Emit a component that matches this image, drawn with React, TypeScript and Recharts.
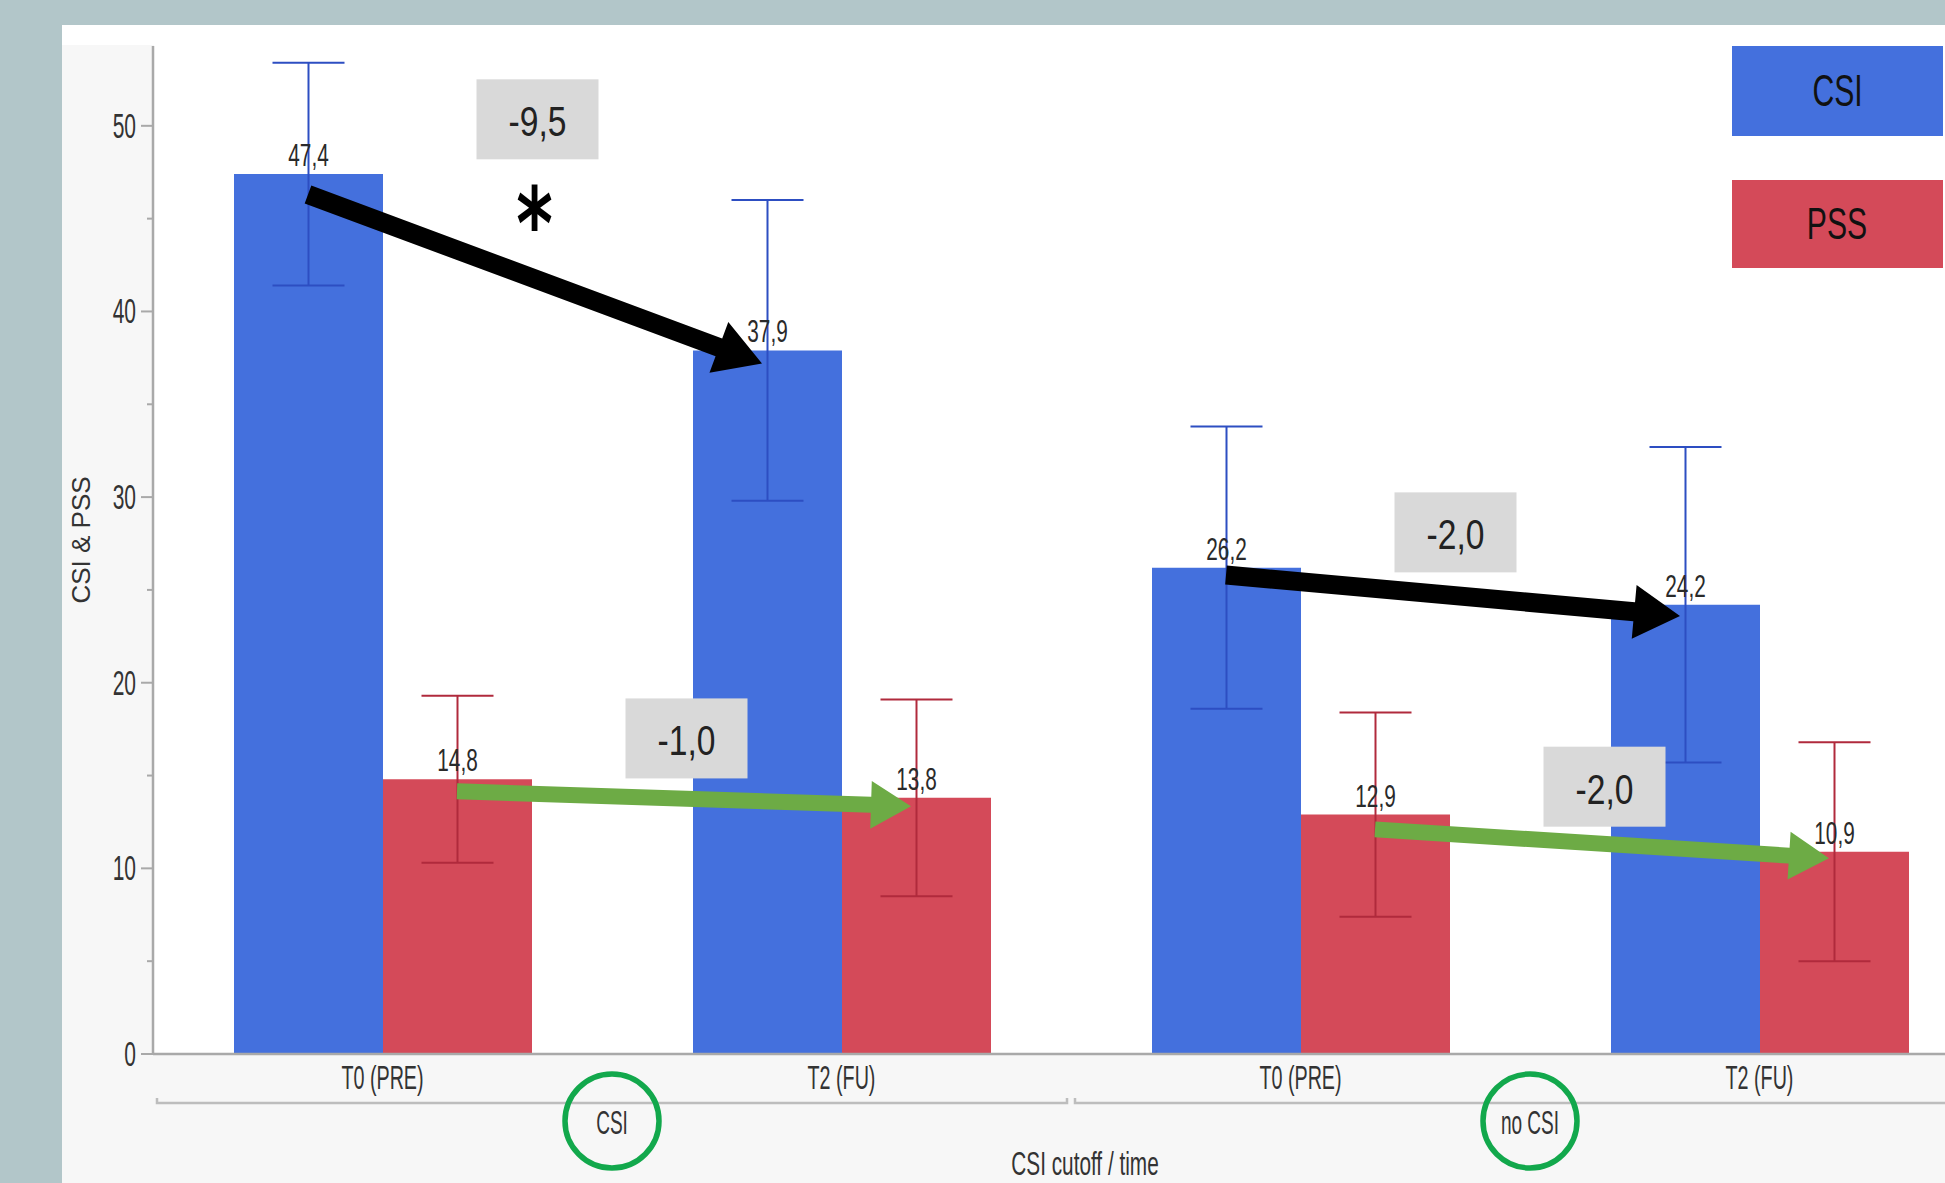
import React from 'react';
import { BarChart, Bar, XAxis, YAxis, ErrorBar, LabelList, ReferenceLine, ReferenceDot } from 'recharts';

// ---- data ----
const categories = ['T0 (PRE)', 'T2 (FU)', 'T0 (PRE)', 'T2 (FU)'];
const groups = ['CSI', 'CSI', 'no CSI', 'no CSI'];
const csiValues = [47.4, 37.9, 26.2, 24.2];
const csiErrors = [6.0, 8.1, 7.6, 8.5];
const pssValues = [14.8, 13.8, 12.9, 10.9];
const pssErrors = [4.5, 5.3, 5.5, 5.9];
const seriesNames = ['CSI', 'PSS'];
const yTicks = [0, 5, 10, 15, 20, 25, 30, 35, 40, 45, 50];
// change annotations: [series, fromIdx, toIdx, significant]
const changes: [number, number, number, boolean][] = [
  [0, 0, 1, true],
  [1, 0, 1, false],
  [0, 2, 3, false],
  [1, 2, 3, false],
];
// annotation placement (value units)
const changeBoxY = [50.35, 17.0, 28.1, 14.4];
const arrowY: [number, number][] = [
  [46.3, 37.2],
  [14.15, 13.35],
  [25.8, 23.6],
  [12.1, 10.55],
];

// ---- styles / layout ----
const W = 2000;
const H = 1183;
const PLOT_LEFT = 153;
const PLOT_RIGHT = 1989;
const BAND = (PLOT_RIGHT - PLOT_LEFT) / categories.length;
const BAR_SIZE = 149;
const BLUE = '#4470DD';
const RED = '#D44A59';
const BLUE_ERR = '#2D4EC2';
const RED_ERR = '#B02A3C';
const GREEN_ARROW = '#6DAB45';
const CIRCLE = '#12A84C';
const FONT = "'Liberation Sans', Arial, sans-serif";
const seriesColors = [BLUE, RED];
const seriesPixelOffset = [-BAR_SIZE / 2, BAR_SIZE / 2];

const keys = categories.map((c, i) => `${groups[i]}|${c}`);
const data = categories.map((c, i) => ({
  key: keys[i],
  time: c,
  group: groups[i],
  csi: csiValues[i],
  csiErr: csiErrors[i],
  pss: pssValues[i],
  pssErr: pssErrors[i],
}));
const seriesValues = [csiValues, pssValues];

const fmt = (v: number) => v.toFixed(1).replace('.', ',');

function NText({ x, y, size, sx, anchor = 'middle', fill = '#333', children, weight = 'normal', family = FONT }: any) {
  return (
    <text
      transform={`translate(${x},${y}) scale(${sx},1)`}
      x={0}
      y={0}
      textAnchor={anchor}
      fontSize={size}
      fontFamily={family}
      fontWeight={weight}
      fill={fill}
    >
      {children}
    </text>
  );
}

const YTick = (props: any) => {
  const { x, y, payload } = props;
  const major = payload.value % 10 === 0;
  return (
    <g>
      <line x1={x - (major ? 12 : 6)} x2={x} y1={y} y2={y} stroke="#A9A9A9" strokeWidth={2} />
      {major && (
        <NText x={x - 17} y={y + 12} size={35} sx={0.6} anchor="end">
          {payload.value}
        </NText>
      )}
    </g>
  );
};

const XTick = (props: any) => {
  const { x, y, index } = props;
  const first = index % 2 === 0;
  const gx = x + BAND / 2;
  return (
    <g>
      <NText x={x} y={y + 35} size={34} sx={0.58}>
        {categories[index]}
      </NText>
      {first && (
        <g>
          <path
            d={`M${x - BAND / 2 + 4},${y + 44} L${x - BAND / 2 + 4},${y + 49} L${x + 1.5 * BAND - 4},${y + 49} L${x + 1.5 * BAND - 4},${y + 44}`}
            fill="none"
            stroke="#BDBDBD"
            strokeWidth={2.5}
          />
          <NText x={gx} y={y + 80} size={34} sx={0.56}>
            {groups[index]}
          </NText>
          <circle cx={gx} cy={y + 67} r={47} fill="none" stroke={CIRCLE} strokeWidth={5.5} />
        </g>
      )}
    </g>
  );
};

const XTitle = (props: any) => {
  const vb = props.viewBox;
  return (
    <NText x={vb.x + vb.width / 2 + 14} y={vb.y + 121} size={33} sx={0.63}>
      CSI cutoff / time
    </NText>
  );
};

const YTitle = (props: any) => {
  const vb = props.viewBox;
  const cx = 81;
  const cy = vb.y + vb.height / 2 - 10;
  return (
    <text
      transform={`translate(${cx},${cy}) rotate(-90)`}
      textAnchor="middle"
      dominantBaseline="central"
      fontSize={26}
      fontFamily={FONT}
      fill="#333"
    >
      CSI &amp; PSS
    </text>
  );
};

const makeValueLabel = () => (props: any) => {
  const { x, y, width, value } = props;
  return (
    <NText x={x + width / 2} y={y - 8} size={32} sx={0.65} fill="#2a2a2a">
      {fmt(value)}
    </NText>
  );
};

const makeArrowShape = (color: string, off: number, w: number, L: number, Hh: number) => (props: any) => {
  const x1 = props.x1 + off;
  const y1 = props.y1;
  const x2 = props.x2 + off - 5;
  const y2 = props.y2;
  const dx = x2 - x1;
  const dy = y2 - y1;
  const len = Math.sqrt(dx * dx + dy * dy) || 1;
  const ux = dx / len;
  const uy = dy / len;
  const nx = -uy;
  const ny = ux;
  const bx = x2 - ux * L;
  const by = y2 - uy * L;
  const pts = [
    [x1 + nx * w, y1 + ny * w],
    [bx + nx * w, by + ny * w],
    [bx + nx * Hh, by + ny * Hh],
    [x2, y2],
    [bx - nx * Hh, by - ny * Hh],
    [bx - nx * w, by - ny * w],
    [x1 - nx * w, y1 - ny * w],
  ];
  return <polygon points={pts.map((p) => p.join(',')).join(' ')} fill={color} />;
};

const makeBoxShape = (text: string, star: boolean, off: number) => (props: any) => {
  const cx = props.cx + BAND / 2 + off;
  const cy = props.cy;
  return (
    <g>
      <rect x={cx - 61} y={cy - 40} width={122} height={80} fill="#D9D9D9" />
      <NText x={cx} y={cy + 17} size={42} sx={0.8} fill="#222">
        {text}
      </NText>
      {star && (
        <NText x={cx - 3} y={cy + 140} size={100} sx={0.7} fill="#000" weight="bold" family="'DejaVu Sans', sans-serif">
          *
        </NText>
      )}
    </g>
  );
};

export default function App() {
  return (
    <div style={{ position: 'absolute', left: 0, top: 0, width: 1945, height: 1183, overflow: 'hidden', background: '#B2C6C9' }}>
      <div style={{ position: 'absolute', left: 62, top: 25, right: 0, bottom: 0, background: '#FFFFFF' }} />
      <div style={{ position: 'absolute', left: 62, top: 45, width: 92, bottom: 0, background: '#F7F7F7' }} />
      <div style={{ position: 'absolute', left: 62, top: 1054, right: 0, bottom: 0, background: '#F7F7F7' }} />
      <div style={{ position: 'absolute', left: 0, top: 0 }}>
        <BarChart width={W} height={H} data={data} margin={{ top: 46, right: W - PLOT_RIGHT, left: 0, bottom: 0 }} barGap={0}>
          <XAxis
            dataKey="key"
            interval={0}
            height={H - 1054}
            tickSize={0}
            tickMargin={0}
            tickLine={false}
            axisLine={{ stroke: '#A9A9A9', strokeWidth: 2.5 }}
            tick={<XTick />}
            label={{ content: <XTitle /> } as any}
          />
          <YAxis
            width={PLOT_LEFT}
            domain={[0, 54.3]}
            ticks={yTicks}
            interval={0}
            allowDataOverflow
            tickSize={0}
            tickMargin={0}
            tickLine={false}
            axisLine={{ stroke: '#A9A9A9', strokeWidth: 2.5 }}
            tick={<YTick />}
            label={{ content: <YTitle /> } as any}
          />
          <Bar dataKey="csi" name={seriesNames[0]} fill={BLUE} barSize={BAR_SIZE} isAnimationActive={false}>
            <ErrorBar dataKey="csiErr" width={36} stroke={BLUE_ERR} strokeWidth={2} direction="y" isAnimationActive={false} />
            <LabelList dataKey="csi" content={makeValueLabel()} />
          </Bar>
          <Bar dataKey="pss" name={seriesNames[1]} fill={RED} barSize={BAR_SIZE} isAnimationActive={false}>
            <ErrorBar dataKey="pssErr" width={36} stroke={RED_ERR} strokeWidth={2} direction="y" isAnimationActive={false} />
            <LabelList dataKey="pss" content={makeValueLabel()} />
          </Bar>
          {changes.map(([s, a, b], k) => {
            const off = seriesPixelOffset[s];
            return (
              <ReferenceLine
                key={`arrow-${k}`}
                ifOverflow="visible"
                segment={[
                  { x: keys[a], y: arrowY[k][0] },
                  { x: keys[b], y: arrowY[k][1] },
                ]}
                shape={s === 0 ? makeArrowShape('#000', off, 9.5, 46, 27) : makeArrowShape(GREEN_ARROW, off, 8, 40, 24)}
              />
            );
          })}
          {changes.map(([s, a, b, sig], k) => {
            const vals = seriesValues[s];
            return (
              <ReferenceDot
                key={`box-${k}`}
                x={keys[a]}
                y={changeBoxY[k]}
                ifOverflow="visible"
                shape={makeBoxShape(fmt(vals[b] - vals[a]), sig, seriesPixelOffset[s])}
              />
            );
          })}
        </BarChart>
      </div>
      {seriesNames.map((n, i) => (
        <div
          key={n}
          style={{
            position: 'absolute',
            left: 1732,
            top: i === 0 ? 46 : 180,
            width: 211,
            height: i === 0 ? 90 : 88,
            background: seriesColors[i],
            display: 'flex',
            alignItems: 'center',
            justifyContent: 'center',
          }}
        >
          <span style={{ fontFamily: FONT, fontSize: 45, color: '#111', transform: 'scaleX(0.67)', display: 'inline-block' }}>{n}</span>
        </div>
      ))}
    </div>
  );
}
